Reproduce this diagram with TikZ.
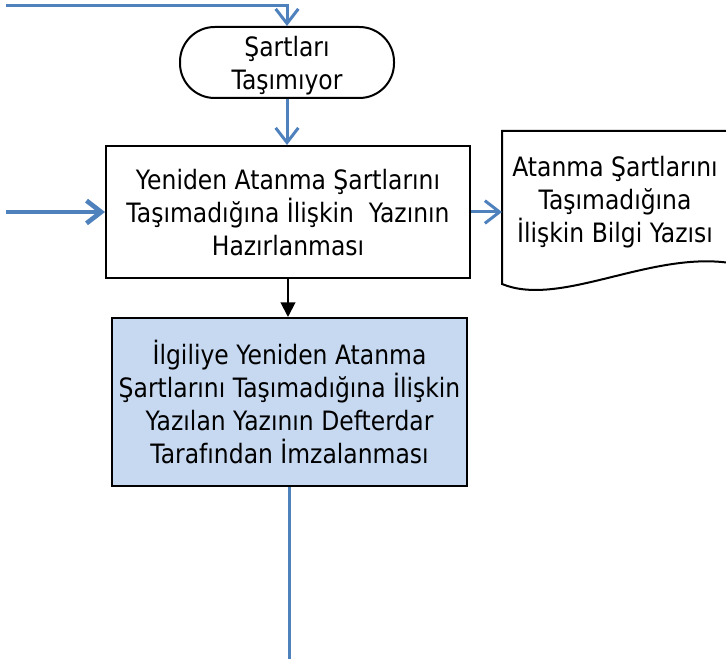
\documentclass[tikz,border=0pt]{standalone}
\usepackage{fontspec}
\setmainfont{DejaVu Sans}[FakeStretch=0.88]
\usetikzlibrary{arrows.meta, positioning}
\definecolor{flowblue}{HTML}{4F81BD}
\definecolor{signblue}{HTML}{C6D9F1}
\tikzset{
	basenode/.style={
			draw=black,
			line width=1.5pt,
			fill=white,
			align=center,
			inner sep=0pt,
			font=\fontsize{20pt}{24.75pt}\selectfont
		},
	termnode/.style={
			basenode,
			text depth=-3pt,
			rounded corners=26pt,
			minimum width=160.5pt,
			minimum height=53.25pt
		},
	prepnode/.style={
			basenode,
			text depth=-3pt,
			minimum width=273pt,
			minimum height=99pt
		},
	signnode/.style={
			basenode,
			fill=signblue,
			minimum width=266.25pt,
			minimum height=126pt
		},
	docnode/.style={
			basenode,
			draw=none,
			fill=none,
			minimum width=169.5pt,
			minimum height=113.25pt
		},
	textnode/.style={
			basenode,
			draw=none,
			fill=none
		},
	flowline/.style={
			draw=flowblue,
			line width=2.25pt
		},
	flowarrow/.style={
			flowline,
			-{Straight Barb[length=11pt,width=17pt]}
		},
	blackarrow/.style={
			draw=black,
			line width=1.5pt,
			-{Triangle[length=11pt,width=11pt]}
		}
}
\begin{document}
\begin{tikzpicture}[x=0.75pt, y=-0.75pt]
	\useasboundingbox (0,0) rectangle (726,659);

	\coordinate (topin) at (6,6);
	\coordinate (leftin) at (6,212);
	\coordinate (bottomout) at (290,659);

	\node[termnode] (term) at (287,62.5) {Şartları\\Taşımıyor};
	\node[prepnode] (prep) at (288,212) {Yeniden Atanma Şartlarını\\Taşımadığına İlişkin\ \ Yazının\\Hazırlanması};
	\node[signnode] (sign) at (289.5,402) {İlgiliye Yeniden Atanma\\Şartlarını Taşımadığına İlişkin\\Yazılan Yazının Defterdar\\Tarafından İmzalanması};
	\node[docnode] (doc) at (616,207.5) {};
	\node[textnode] (doctext) at (615,202) {Atanma Şartlarını\\Taşımadığına\\İlişkin Bilgi Yazısı};

	\draw[line width=1.5pt] (doc.south west)
		.. controls ([shift={(58,24)}]doc.south west) and ([shift={(148,-33)}]doc.south west)
		.. ([shift={(0,-21)}]doc.south east)
		-- (doc.north east) -- (doc.north west) -- cycle;

	\draw[flowarrow] (topin) -| (term.north);
	\draw[flowarrow] (term.south) -- (term.south |- prep.north);
	\draw[flowarrow, line width=3.5pt] (leftin) -- (prep.west);
	\draw[flowarrow] (prep.east) -- (prep.east -| doc.west);
	\draw[blackarrow] (prep.south) -- (prep.south |- sign.north);
	\draw[flowline] (sign.south) -- (sign.south |- bottomout);
\end{tikzpicture}
\end{document}
